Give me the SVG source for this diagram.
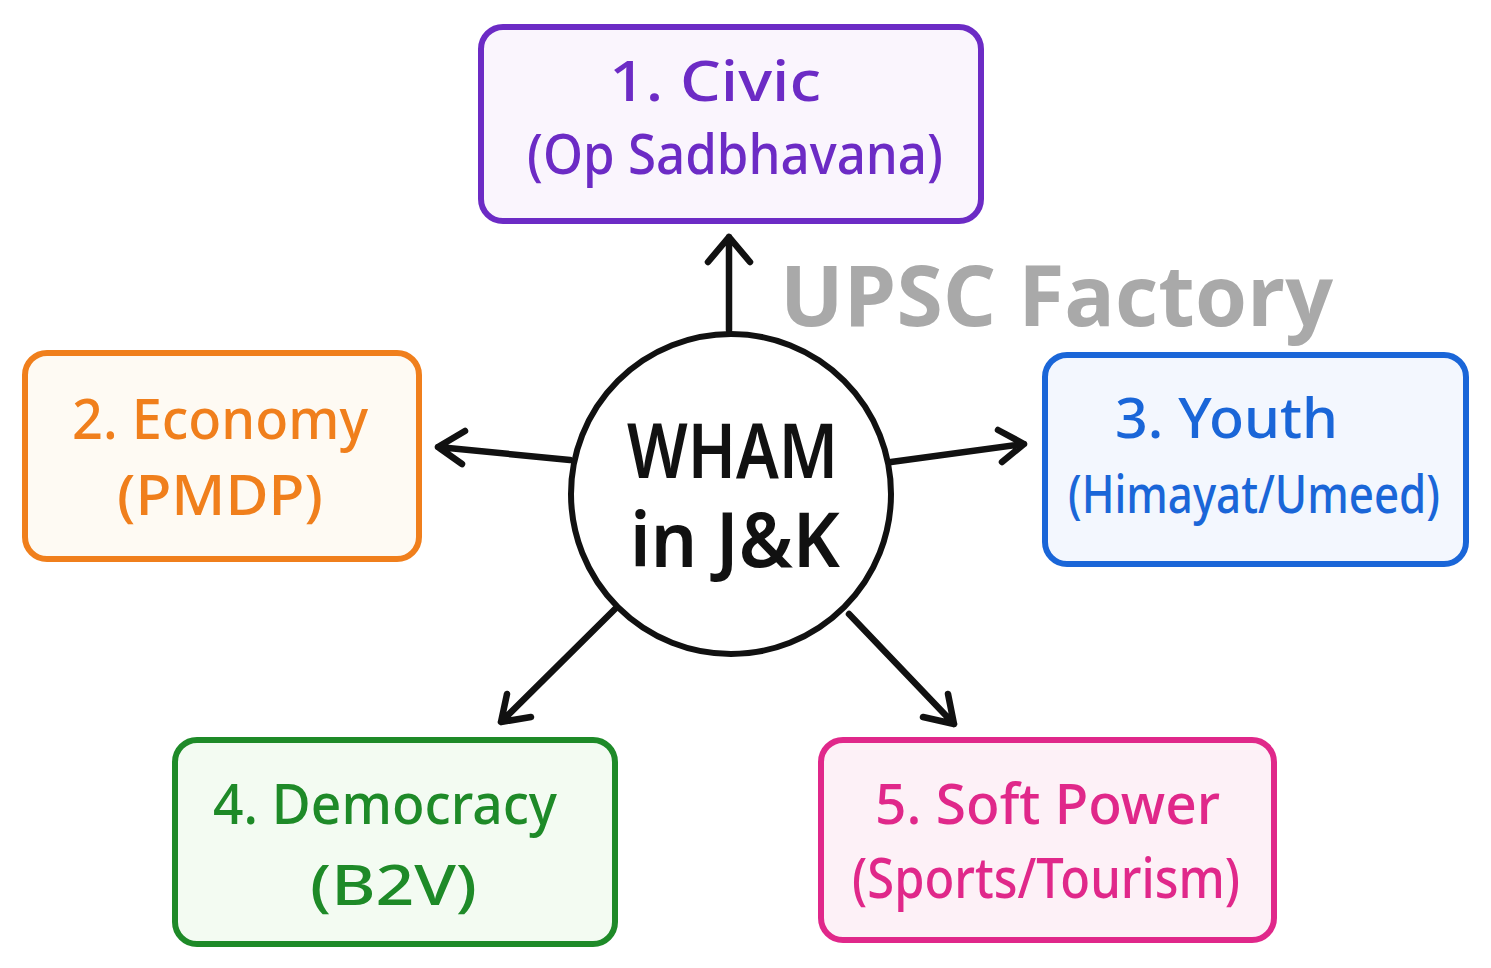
<svg xmlns="http://www.w3.org/2000/svg" width="1491" height="968" viewBox="0 0 1491 968">
<style>
.box{stroke-width:6;stroke-linejoin:round}
.t{font-family:"Noto Sans","Liberation Sans",sans-serif;font-size:56px;font-weight:500}
.s{font-size:52px}
.c{font-family:"Noto Sans","Liberation Sans",sans-serif;font-size:76px;font-weight:600;fill:#111}
.conn{fill:none;stroke:#111;stroke-width:6.5;stroke-linecap:round;stroke-linejoin:round}
.wm{font-family:"Open Sans","Liberation Sans",sans-serif;font-weight:700;font-size:84px;fill:#a9a9a9}
</style>
<rect width="1491" height="968" fill="#ffffff"/>
<g id="watermark"><text class="wm" x="780" y="326" textLength="553" lengthAdjust="spacingAndGlyphs">UPSC Factory</text></g>
<g id="connectors">
<path class="conn" d="M729 330 V237 M708 262 L729 237 L750 262"/>
<path class="conn" d="M570 460 L438 447 M465 431 L438 447 L462 464"/>
<path class="conn" d="M891 462 L1024 444 M998 430 L1024 444 L1002 462"/>
<path class="conn" d="M615 609 L501 722 M507 694 L501 722 L531 717"/>
<path class="conn" d="M849 614 L954 724 M923 717 L954 724 L948 694"/>
</g>
<g id="center">
<circle cx="731" cy="494" r="160" fill="#ffffff" stroke="#111" stroke-width="6"/>
<text class="c" x="627" y="478" textLength="211" lengthAdjust="spacingAndGlyphs">WHAM</text>
<text class="c" x="630" y="567" textLength="210" lengthAdjust="spacingAndGlyphs">in J&amp;K</text>
</g>
<g id="node1">
<rect class="box" x="481" y="27" width="500" height="194" rx="22" fill="#faf5fd" stroke="#6c2bc5"/>
<text class="t" fill="#6c2bc5" x="609" y="101" textLength="212" lengthAdjust="spacingAndGlyphs">1. Civic</text>
<text class="t" fill="#6c2bc5" x="527" y="174" textLength="416" lengthAdjust="spacingAndGlyphs">(Op Sadbhavana)</text>
</g>
<g id="node2">
<rect class="box" x="25" y="353" width="394" height="206" rx="22" fill="#fefaf3" stroke="#f07f1c"/>
<text class="t" fill="#f07f1c" x="72" y="439" textLength="296" lengthAdjust="spacingAndGlyphs">2. Economy</text>
<text class="t" fill="#f07f1c" x="117" y="515" textLength="206" lengthAdjust="spacingAndGlyphs">(PMDP)</text>
</g>
<g id="node3">
<rect class="box" x="1045" y="355" width="421" height="209" rx="22" fill="#f3f7fe" stroke="#1a66d8"/>
<text class="t" fill="#1a66d8" x="1115" y="438" textLength="223" lengthAdjust="spacingAndGlyphs">3. Youth</text>
<text class="t s" fill="#1a66d8" x="1068" y="513" textLength="372" lengthAdjust="spacingAndGlyphs">(Himayat/Umeed)</text>
</g>
<g id="node4">
<rect class="box" x="175" y="740" width="440" height="204" rx="22" fill="#f3fbf2" stroke="#1e8a28"/>
<text class="t" fill="#1e8a28" x="213" y="824" textLength="344" lengthAdjust="spacingAndGlyphs">4. Democracy</text>
<text class="t" fill="#1e8a28" x="310" y="905" textLength="167" lengthAdjust="spacingAndGlyphs">(B2V)</text>
</g>
<g id="node5">
<rect class="box" x="821" y="740" width="453" height="200" rx="22" fill="#fdf1f7" stroke="#e0288a"/>
<text class="t" fill="#e0288a" x="875" y="824" textLength="345" lengthAdjust="spacingAndGlyphs">5. Soft Power</text>
<text class="t" fill="#e0288a" x="852" y="898" textLength="388" lengthAdjust="spacingAndGlyphs">(Sports/Tourism)</text>
</g>
</svg>
